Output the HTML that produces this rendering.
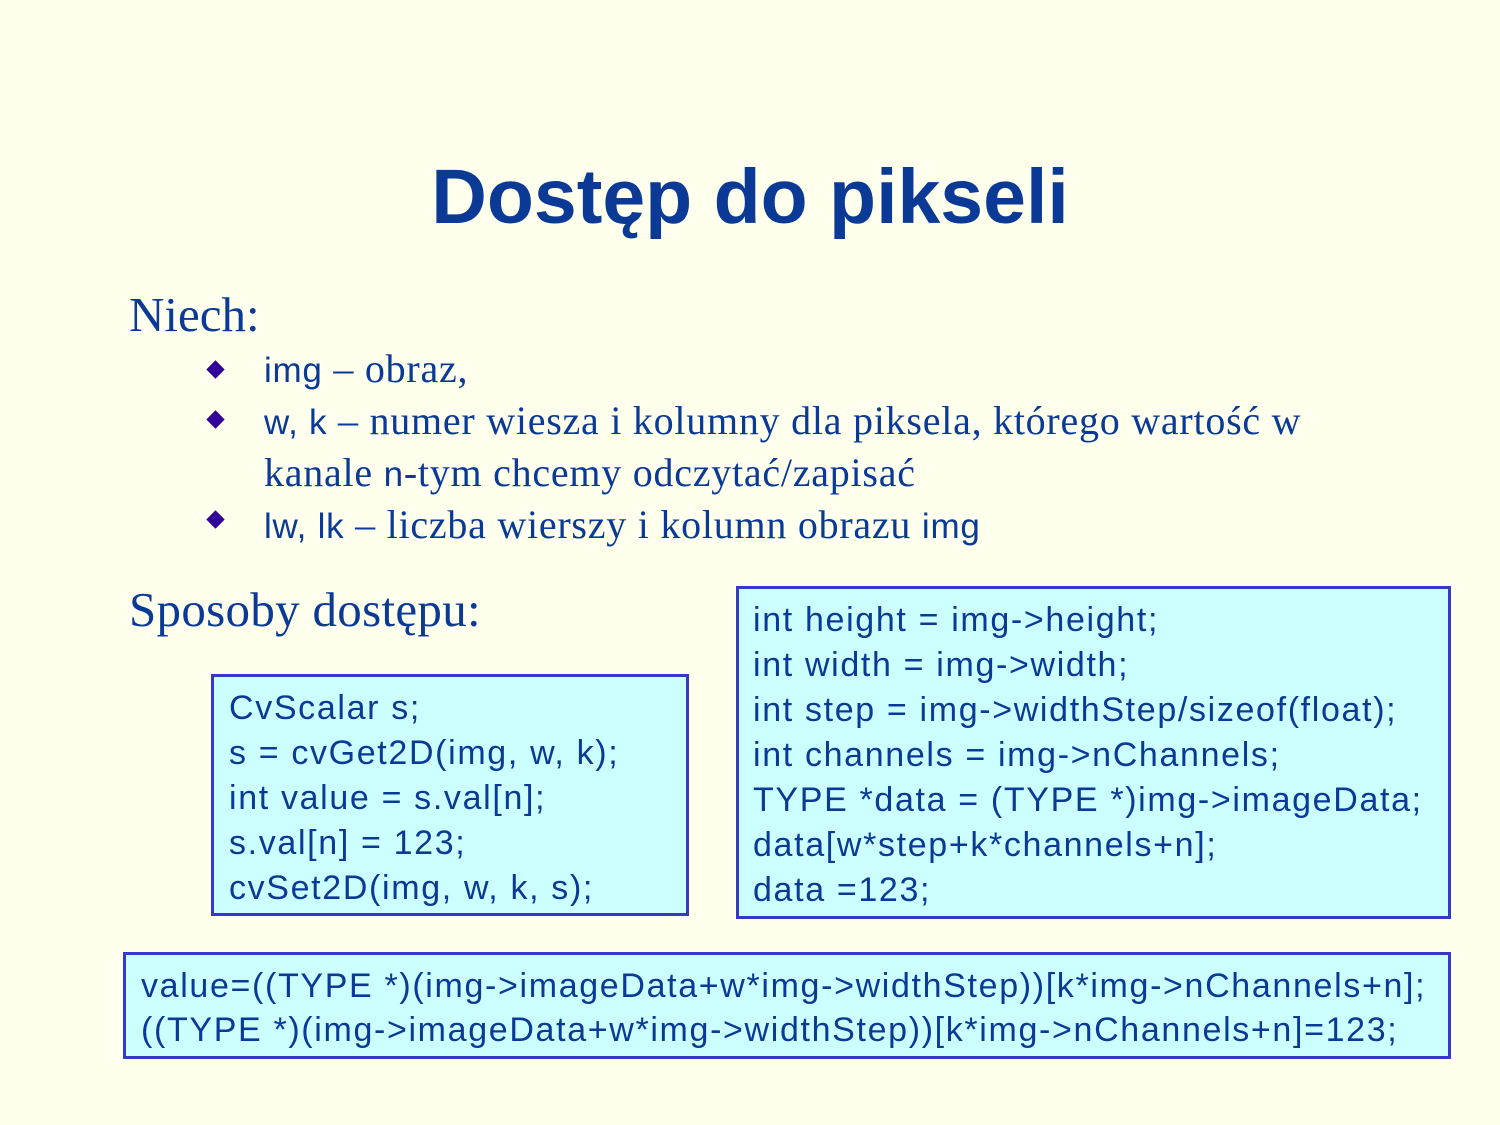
<!DOCTYPE html>
<html><head><meta charset="utf-8"><style>
body{margin:0;width:1500px;height:1125px;background:#FFFFEE;position:relative;overflow:hidden;color:#0a3a96}
.a{position:absolute;white-space:nowrap}
.s{font-family:"Liberation Sans",sans-serif}
.r{font-family:"Liberation Serif",serif}
.box{position:absolute;background:#CCFFFF;border:3px solid #3838C8;box-sizing:border-box;font-family:"Liberation Sans",sans-serif;font-size:34px;letter-spacing:1.65px;line-height:45px;white-space:nowrap;color:#0a3a96}
.b{position:absolute;width:13px;height:13px;background:#330099;transform:rotate(45deg)}
</style></head><body>
<div class="a s" style="left:0;width:1500px;text-align:center;top:153px;font-size:77px;font-weight:bold;color:#0a3a96">Dostęp do pikseli</div>
<div class="a r" style="left:129px;top:286px;font-size:49px">Niech:</div>
<div class="b" style="left:209px;top:363px"></div>
<div class="b" style="left:209px;top:413px"></div>
<div class="b" style="left:209px;top:513px"></div>
<div class="a r" style="left:264px;top:344px;font-size:40px;letter-spacing:0.75px;line-height:50px"><span class="s" style="font-size:35px">img</span> – obraz,<br><span class="s" style="font-size:35px">w, k</span> – numer wiesza i kolumny dla piksela, którego wartość w<br>kanale <span class="s" style="font-size:35px">n</span>-tym chcemy odczytać/zapisać<br><span class="s" style="font-size:35px">lw, lk</span> – liczba wierszy i kolumn obrazu <span class="s" style="font-size:35px">img</span></div>
<div class="a r" style="left:129px;top:581px;font-size:49px;letter-spacing:0.3px">Sposoby dostępu:</div>
<div class="box" style="left:211px;top:674px;width:478px;height:242px;padding:9px 0 0 15px">CvScalar s;<br>s = cvGet2D(img, w, k);<br>int value = s.val[n];<br>s.val[n] = 123;<br>cvSet2D(img, w, k, s);</div>
<div class="box" style="left:736px;top:586px;width:715px;height:333px;padding:9px 0 0 14px">int height = img-&gt;height;<br>int width = img-&gt;width;<br>int step = img-&gt;widthStep/sizeof(float);<br>int channels = img-&gt;nChannels;<br>TYPE *data = (TYPE *)img-&gt;imageData;<br>data[w*step+k*channels+n];<br>data =123;</div>
<div class="box" style="left:123px;top:952px;width:1328px;height:107px;padding:9px 0 0 15px;line-height:44px">value=((TYPE *)(img-&gt;imageData+w*img-&gt;widthStep))[k*img-&gt;nChannels+n];<br>((TYPE *)(img-&gt;imageData+w*img-&gt;widthStep))[k*img-&gt;nChannels+n]=123;</div>
</body></html>
